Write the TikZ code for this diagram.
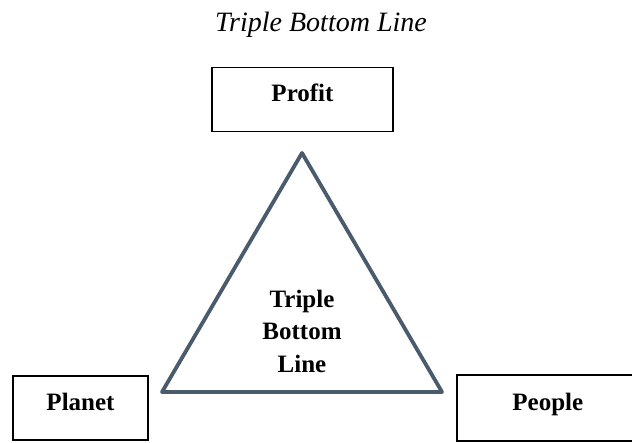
\documentclass[tikz,border=0pt]{standalone}
\usepackage{fontspec}
\setmainfont{Liberation Serif}
\usepackage{xcolor}
\usetikzlibrary{positioning,calc}
\definecolor{triline}{HTML}{4A5B6C}

\begin{document}
\begin{tikzpicture}[x=1pt, y=-1pt]
  \tikzstyle{pillar}=[rectangle, draw=black, line width=1.6pt, fill=white, font=\fontsize{25}{30}\selectfont\bfseries, text height=17pt, text depth=12pt, minimum height=64pt]
  \tikzstyle{heading}=[font=\fontsize{28}{32}\selectfont\itshape, anchor=base]
  \tikzstyle{core}=[font=\fontsize{25}{32.5}\selectfont\bfseries, align=center]

  \useasboundingbox (0,0) rectangle (632,443);

  % Titel
  \node[heading] (title) at (321,32) {Triple Bottom Line};

  % Dreieck
  \coordinate (top) at (302,153);
  \coordinate (left) at (162,392);
  \coordinate (right) at (442,392);
  \draw[triline, line width=3.8pt, line join=round] (top) -- (left) -- (right) -- cycle;
  \node[core] (tbl) at (302,331) {Triple\\Bottom\\Line};

  % Die drei Säulen
  \node[pillar, minimum width=181pt] (profit) at (302.5,99.5) {Profit};
  \node[pillar, minimum width=135pt] (planet) at (80.5,408) {Planet};
  \node[pillar, draw=none, minimum width=196pt, anchor=west] (people) at (457,408) {\hspace*{-16pt}People};
  \draw[line width=1.6pt] (people.north east) -- (people.north west) -- (people.south west) -- (people.south east);
\end{tikzpicture}
\end{document}
